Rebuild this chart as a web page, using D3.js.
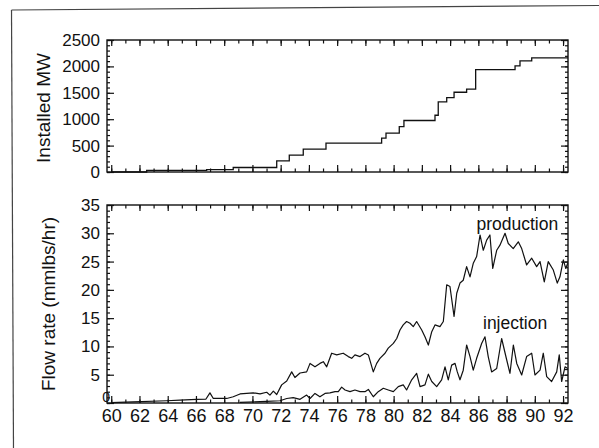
<!DOCTYPE html>
<html>
<head>
<meta charset="utf-8">
<script src="https://cdn.jsdelivr.net/npm/d3@7"></script>
<style>
  body { margin: 0; background: #fff; }
  text { font-family: "Liberation Sans", Arial, sans-serif; fill: #111; }
</style>
</head>
<body>
<script>
// canvas
var width = 599, height = 448;

// installed capacity (MW), step changes: year, value
var mwYears  = [60, 62.51, 66.76, 68.64, 71.72, 72.61, 73.6, 75.21, 79.15, 79.46, 80.4, 80.73, 82.93, 83.16, 83.76, 84.28, 85.17, 85.81, 88.6, 88.95, 89.78, 92.35];
var mwValues = [0, 30, 45, 85, 210, 320, 435, 545, 640, 735, 860, 975, 1075, 1330, 1410, 1510, 1570, 1940, 2010, 2105, 2160, 2160];

// production flow rate (mmlbs/hr)
var prodYears  = [60, 61.54, 63.93, 64.87, 66.05, 66.71, 66.99, 67.23, 68.18, 68.64, 69.12, 69.59, 70.06, 70.54, 71.01, 71.24, 71.48, 71.72, 72.07, 72.43, 72.78, 73.01, 73.37,
                  73.84, 74.08, 74.43, 74.78, 75.02, 75.26, 75.61, 75.97, 76.43, 76.79, 77.03, 77.26, 77.62, 77.97, 78.21, 78.56, 78.8, 79.03, 79.39, 79.62, 79.98,
                  80.22, 80.45, 80.68, 80.92, 81.16, 81.39, 81.63, 81.99, 82.22, 82.46, 82.7, 82.93, 83.28, 83.52, 83.76, 83.99, 84.28, 84.47, 84.7, 84.93,
                  85.17, 85.41, 85.64, 85.88, 86.12, 86.35, 86.59, 86.82, 87.02, 87.3, 87.53, 87.89, 88.12, 88.47, 88.83, 89.07, 89.42, 89.78,
                  90.13, 90.37, 90.67, 90.95, 91.31, 91.59, 91.78, 92.02, 92.19, 92.33];
var prodValues = [0.05, 0.2, 0.4, 0.5, 0.65, 0.7, 1.8, 0.8, 0.8, 1.1, 1.6, 1.7, 1.8, 1.6, 1.9, 1.4, 2.1, 1.5, 3.2, 3.9, 5.5, 4.5, 5.3,
                  5.5, 7.0, 6.4, 7.0, 7.3, 6.4, 8.8, 8.5, 8.8, 8.2, 7.9, 8.5, 8.2, 8.8, 8.5, 5.5, 7.0, 7.9, 8.8, 9.7, 10.55,
                  11.4, 12.9, 13.8, 14.4, 14.1, 13.5, 14.4, 12.9, 11.7, 10.25, 12.6, 13.8, 13.5, 14.4, 20.9, 20.6, 15.3, 19.4, 21.2, 21.7,
                  24.1, 22.3, 24.7, 25.9, 29.7, 27.0, 28.8, 29.7, 23.8, 27.0, 27.9, 30.0, 28.2, 27.3, 28.5, 27.3, 24.4, 25.6,
                  24.1, 25.0, 21.4, 25.0, 23.5, 21.2, 22.3, 25.3, 23.8, 24.7];

// injection flow rate (mmlbs/hr)
var injYears  = [69.12, 71.01, 71.95, 72.43, 72.89, 73.37, 73.84, 74.08, 74.43, 74.78, 75.14, 75.49, 75.85, 76.08, 76.32, 76.56, 76.91, 77.26, 77.62, 77.97,
                 78.21, 78.56, 78.91, 79.27, 79.62, 79.98, 80.33, 80.68, 80.92, 81.28, 81.63, 81.87, 82.22, 82.46, 82.7, 83.05, 83.4, 83.64, 83.87,
                 84.11, 84.35, 84.51, 84.7, 84.93, 85.17, 85.41, 85.64, 85.88, 86.24, 86.47, 86.7, 86.94, 87.3, 87.65, 88.01, 88.24, 88.48, 88.72,
                 89.07, 89.42, 89.78, 90.01, 90.37, 90.6, 90.84, 91.19, 91.55, 91.73, 91.9, 92.14, 92.33];
var injValues = [0.1, 0.3, 0.4, 0.8, 0.95, 0.65, 1.4, 0.8, 1.7, 1.1, 1.7, 1.8, 2.0, 2.0, 2.8, 2.3, 2.0, 2.3, 2.0, 2.0,
                 2.4, 1.1, 2.0, 2.6, 2.3, 2.0, 2.9, 3.2, 2.3, 4.1, 5.25, 2.9, 3.2, 5.1, 3.8, 2.9, 4.1, 6.4, 4.1,
                 6.7, 7.0, 5.5, 4.1, 5.8, 10.25, 8.2, 5.8, 7.9, 10.55, 11.7, 8.2, 5.5, 6.1, 11.4, 7.6, 5.25, 10.25, 7.0,
                 4.95, 8.2, 8.8, 4.95, 5.8, 8.8, 4.65, 3.8, 5.5, 8.5, 3.8, 6.4, 6.1];

// tick labels
var xLabels = [60, 62, 64, 66, 68, 70, 72, 74, 76, 78, 80, 82, 84, 86, 88, 90, 92];
var mwTicks = [0, 500, 1000, 1500, 2000, 2500];
var flowTicks = [0, 5, 10, 15, 20, 25, 30, 35];

var svg = d3.select("body").append("svg")
    .attr("width", width)
    .attr("height", height);

// scanned page frame
svg.append("line").attr("x1", 11.5).attr("y1", 10).attr("x2", 599).attr("y2", 5.5)
    .attr("stroke", "#444").attr("stroke-width", 1.2);
svg.append("line").attr("x1", 11.5).attr("y1", 10).attr("x2", 13.5).attr("y2", 448)
    .attr("stroke", "#444").attr("stroke-width", 1.2);

var left = 107, right = 568;
var top1 = 40, bottom1 = 172;
var top2 = 205, bottom2 = 403;

var x = d3.scaleLinear().domain([59.7, 92.35]).range([left, right]);
var y1 = d3.scaleLinear().domain([0, 2500]).range([bottom1, top1]);
var y2 = d3.scaleLinear().domain([0, 35]).range([bottom2, top2]);

var minorYears = d3.range(60, 93, 1);

function frameAxes(y, major, minor, top, bottom, showX) {
  // minor ticks on all sides
  svg.append("g").attr("class", "axis").attr("transform", "translate(0," + bottom + ")")
    .call(d3.axisBottom(x).tickValues(minorYears).tickSize(-3.5).tickFormat(""));
  svg.append("g").attr("class", "axis").attr("transform", "translate(0," + top + ")")
    .call(d3.axisTop(x).tickValues(minorYears).tickSize(-3.5).tickFormat(""));
  svg.append("g").attr("class", "axis").attr("transform", "translate(" + left + ",0)")
    .call(d3.axisLeft(y).tickValues(minor).tickSize(-3).tickFormat(""));
  svg.append("g").attr("class", "axis").attr("transform", "translate(" + right + ",0)")
    .call(d3.axisRight(y).tickValues(minor).tickSize(-3).tickFormat(""));
  // major ticks
  svg.append("g").attr("class", "axis xlab").attr("transform", "translate(0," + bottom + ")")
    .call(d3.axisBottom(x).tickValues(xLabels).tickSize(-7).tickPadding(6)
      .tickFormat(showX ? d3.format("d") : ""));
  svg.append("g").attr("class", "axis").attr("transform", "translate(0," + top + ")")
    .call(d3.axisTop(x).tickValues(xLabels).tickSize(-6).tickFormat(""));
  var yl = svg.append("g").attr("class", "axis ylab").attr("transform", "translate(" + left + ",0)")
    .call(d3.axisLeft(y).tickValues(major).tickSize(-7).tickPadding(7).tickFormat(d3.format("d")));
  svg.append("g").attr("class", "axis").attr("transform", "translate(" + right + ",0)")
    .call(d3.axisRight(y).tickValues(major).tickSize(-7).tickFormat(""));
  // frame
  svg.append("rect").attr("x", left).attr("y", top)
    .attr("width", right - left).attr("height", bottom - top)
    .attr("fill", "none").attr("stroke", "#111").attr("stroke-width", 1.4);
  return yl;
}

var yl1 = frameAxes(y1, mwTicks, d3.range(0, 2501, 100), top1, bottom1, false);
var yl2 = frameAxes(y2, flowTicks, d3.range(0, 36, 1), top2, bottom2, true);

svg.selectAll(".axis path").remove();
svg.selectAll(".axis line").attr("stroke", "#111").attr("stroke-width", 1.2);
svg.selectAll(".axis text").attr("fill", "#111");
svg.selectAll(".ylab text").style("font-size", "17px");
svg.selectAll(".xlab text").style("font-size", "18px");

// the lower panel's zero sits small, up against the corner
yl2.selectAll(".tick").filter(function(d){ return d === 0; })
  .select("text")
  .style("font-size", "14px")
  .attr("x", 3)
  .attr("dy", "-0.1em");

// installed MW step line
var mwData = mwYears.map(function(d, i){ return [d, mwValues[i]]; });
svg.append("path")
  .datum(mwData)
  .attr("fill", "none").attr("stroke", "#111").attr("stroke-width", 1.3)
  .attr("d", d3.line().x(function(d){ return x(d[0]); }).y(function(d){ return y1(d[1]); }).curve(d3.curveStepAfter));

// flow lines
var flowLine = d3.line().x(function(d){ return x(d[0]); }).y(function(d){ return y2(d[1]); });
var prodData = prodYears.map(function(d, i){ return [d, prodValues[i]]; });
var injData = injYears.map(function(d, i){ return [d, injValues[i]]; });

svg.append("path").datum(prodData)
  .attr("fill", "none").attr("stroke", "#111").attr("stroke-width", 1.2)
  .attr("stroke-linejoin", "round")
  .attr("d", flowLine);
svg.append("path").datum(injData)
  .attr("fill", "none").attr("stroke", "#111").attr("stroke-width", 1.2)
  .attr("stroke-linejoin", "round")
  .attr("d", flowLine);

// series labels
svg.append("text").attr("x", 476.5).attr("y", 230)
  .style("font-size", "17.5px").text("production");
svg.append("text").attr("x", 483).attr("y", 329)
  .style("font-size", "17.5px").text("injection");

// axis titles
svg.append("text")
  .attr("transform", "translate(50," + ((top1 + bottom1) / 2 + 2) + ") rotate(-90)")
  .attr("text-anchor", "middle")
  .style("font-size", "19px")
  .text("Installed MW");
svg.append("text")
  .attr("transform", "translate(55," + ((top2 + bottom2) / 2) + ") rotate(-90)")
  .attr("text-anchor", "middle")
  .style("font-size", "19px")
  .text("Flow rate (mmlbs/hr)");
</script>
</body>
</html>
